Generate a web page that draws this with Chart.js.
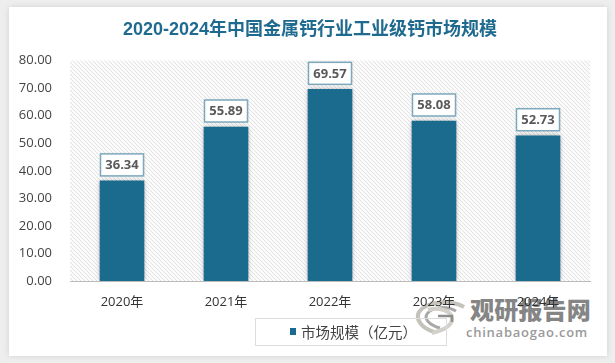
<!DOCTYPE html>
<html lang="zh">
<head>
    <meta charset="UTF-8">
    <title>2020-2024年中国金属钙行业工业级钙市场规模</title>
    <script src="https://cdn.jsdelivr.net/npm/chart.js"></script>
    <style>
        html, body { margin: 0; padding: 0; width: 615px; height: 363px; overflow: hidden; background: #eeeeee; }
        .card { position: absolute; left: 9px; top: 7px; width: 598px; height: 349px; background: #fff; box-shadow: 0 0 6px rgba(0,0,0,0.12); }
        canvas { position: absolute; left: 0; top: 0; }
        .wm { position: absolute; color: #858585; font-family: "Noto Sans CJK SC", sans-serif; font-weight: 900; white-space: nowrap; }
        #wmName { left: 470px; top: 291px; font-size: 24px; line-height: 36px; letter-spacing: 0.2px; }
        #wmUrl { left: 466px; top: 324px; font-size: 13px; line-height: 16px; letter-spacing: 0.75px; font-family: "Open Sans", sans-serif; font-weight: 600; color: #9a9a9a; }
        #wmLogo { position: absolute; left: 414px; top: 300px; }
    </style>
</head>
<body>
    <div class="card"></div>
    <svg id="wmLogo" width="52" height="36" viewBox="0 0 52 36" fill="none">
        <path d="M50 7 C38 0 14 0 5 12 C1 20 8 28 20 32" stroke="#c4c2ba" stroke-width="4"/>
        <path d="M42 11 C32 5 18 7 13 14 C10 19 15 25 26 28" stroke="#a8a8a8" stroke-width="3"/>
        <path d="M14 10 C24 7 38 10 38 19 C38 26 30 30 18 33" stroke="#d2d0c8" stroke-width="4"/>
        <path d="M24 16 L38 16 L38 22" stroke="#8f8f8f" stroke-width="2.5"/>
    </svg>
    <div class="wm" id="wmName">观研报告网</div>
    <div class="wm" id="wmUrl">chinabaogao.com</div>
    <canvas id="chart" width="615" height="363"></canvas>

    <script>
        const chartTitle = '2020-2024年中国金属钙行业工业级钙市场规模';
        const years = ['2020年', '2021年', '2022年', '2023年', '2024年'];
        const marketSize = [36.34, 55.89, 69.57, 58.08, 52.73];
        const seriesName = '市场规模（亿元）';
        const barColor = '#1b6b8f';

        // diagonal hatch behind the bars
        function makeHatch(ctx) {
            const c = document.createElement('canvas');
            c.width = 4;
            c.height = 4;
            const p = c.getContext('2d');
            p.fillStyle = '#fbfbfb';
            p.fillRect(0, 0, 4, 4);
            p.strokeStyle = '#e2e2e2';
            p.lineWidth = 1;
            p.beginPath();
            p.moveTo(0, 0);
            p.lineTo(4, 4);
            p.moveTo(-1, 3);
            p.lineTo(1, 5);
            p.moveTo(3, -1);
            p.lineTo(5, 1);
            p.stroke();
            return ctx.createPattern(c, 'repeat');
        }

        const hatchPlugin = {
            id: 'hatch',
            // title is centred on the whole picture, not on the space left of the right padding
            afterLayout(chart) {
                chart.titleBlock.left = 30;
            },
            beforeDatasetsDraw(chart) {
                const { ctx, chartArea: a } = chart;
                ctx.save();
                ctx.fillStyle = makeHatch(ctx);
                ctx.fillRect(a.left, a.top, a.right - a.left, a.bottom - a.top);
                ctx.restore();
                // soft shadow on the bars
                ctx.save();
                ctx.shadowColor = 'rgba(0,0,0,0.35)';
                ctx.shadowBlur = 5;
            },
            afterDatasetsDraw(chart) {
                chart.ctx.restore();
            }
        };

        const valueBoxPlugin = {
            id: 'valueBox',
            afterDatasetsDraw(chart) {
                const { ctx } = chart;
                const meta = chart.getDatasetMeta(0);
                ctx.save();
                ctx.font = 'bold 13px "Open Sans", sans-serif';
                ctx.textAlign = 'center';
                ctx.textBaseline = 'middle';
                meta.data.forEach((bar, i) => {
                    const w = 43, h = 22;
                    const x = bar.x - w / 2;
                    const y = bar.y - h - 5;
                    ctx.shadowColor = 'rgba(0,0,0,0.2)';
                    ctx.shadowBlur = 3;
                    ctx.fillStyle = '#fff';
                    ctx.fillRect(x, y, w, h);
                    ctx.shadowColor = 'transparent';
                    ctx.shadowBlur = 0;
                    ctx.strokeStyle = '#7ea9bd';
                    ctx.lineWidth = 1.5;
                    ctx.strokeRect(x, y, w, h);
                    ctx.fillStyle = '#595959';
                    ctx.fillText(marketSize[i].toFixed(2), bar.x, y + h / 2 + 0.5);
                });
                ctx.restore();
            }
        };

        const legendPlugin = {
            id: 'legendBox',
            afterDraw(chart) {
                const { ctx } = chart;
                const ds = chart.data.datasets[0];
                ctx.save();
                ctx.strokeStyle = '#dddddd';
                ctx.lineWidth = 1;
                ctx.strokeRect(255.5, 318.5, 191, 27);
                ctx.fillStyle = ds.backgroundColor;
                ctx.fillRect(290, 328, 6, 7);
                ctx.fillStyle = '#444';
                ctx.font = '14.5px "Noto Sans CJK SC", sans-serif';
                ctx.textBaseline = 'middle';
                ctx.fillText(ds.label, 301, 332);
                ctx.restore();
            }
        };

        new Chart(document.getElementById('chart'), {
            type: 'bar',
            data: {
                labels: years,
                datasets: [{
                    label: seriesName,
                    data: marketSize,
                    backgroundColor: barColor,
                    barThickness: 44
                }]
            },
            options: {
                responsive: false,
                animation: false,
                layout: { padding: { right: 25, bottom: 42 } },
                plugins: {
                    legend: { display: false },
                    tooltip: { enabled: false },
                    title: {
                        display: true,
                        text: chartTitle,
                        color: '#1f6a8f',
                        font: { size: 18, weight: 'bold', family: '"Liberation Sans", "Noto Sans CJK SC", sans-serif' },
                        padding: { top: 19, bottom: 20 }
                    }
                },
                scales: {
                    x: {
                        afterFit(s) { s.height = 40; },
                        grid: { display: false },
                        border: { color: '#bbbbbb', width: 1 },
                        ticks: { color: '#333', padding: 5, font: { size: 13, family: '"Open Sans", "Noto Sans CJK SC", sans-serif' } }
                    },
                    y: {
                        min: 0,
                        max: 80,
                        afterFit(s) { s.width = 70; },
                        grid: { display: false, drawTicks: false },
                        border: { display: false },
                        ticks: {
                            stepSize: 10,
                            color: '#444',
                            padding: 18,
                            font: { size: 13, family: '"Open Sans", sans-serif' },
                            callback: v => v.toFixed(2)
                        }
                    }
                }
            },
            plugins: [hatchPlugin, valueBoxPlugin, legendPlugin]
        });
    </script>
</body>
</html>
